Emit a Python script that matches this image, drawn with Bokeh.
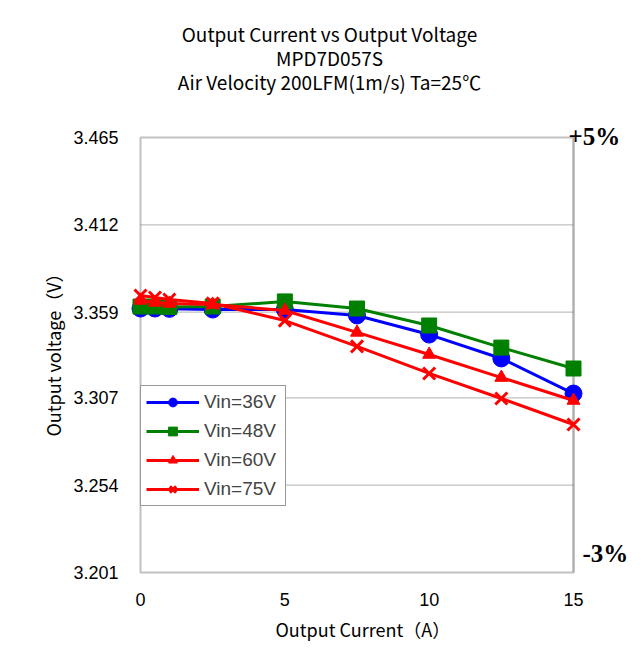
from bokeh.plotting import figure
from bokeh.models import (Range1d, FixedTicker, PrintfTickFormatter, BoxAnnotation,
                          Label, Legend, LegendItem, Title)
from bokeh.embed import file_html
from bokeh.resources import INLINE

# ---- data ----
current = [0, 0.5, 1, 2.5, 5, 7.5, 10, 12.5, 15]
v36 = [3.3612, 3.3612, 3.3610, 3.3606, 3.3606, 3.3570, 3.3454, 3.3309, 3.3096]
v48 = [3.3624, 3.3624, 3.3622, 3.3624, 3.3655, 3.3612, 3.3509, 3.3375, 3.3248]
v60 = [3.3661, 3.3649, 3.3643, 3.3637, 3.3600, 3.3467, 3.3333, 3.3193, 3.3054]
v75 = [3.3691, 3.3679, 3.3667, 3.3643, 3.3539, 3.3382, 3.3218, 3.3066, 3.2908]
series_names = ["Vin=36V", "Vin=48V", "Vin=60V", "Vin=75V"]
x_ticks = [0, 5, 10, 15]
y_ticks = [3.201, 3.254, 3.307, 3.359, 3.412, 3.465]
title_lines = ["Output Current vs Output Voltage", "MPD7D057S",
               "Air Velocity 200LFM(1m/s) Ta=25\u2103"]
tol_labels = ["+5%", "-3%"]
x_title = "Output Current\uff08A\uff09"
y_title = "Output voltage\uff08V\uff09"

X_LO, X_HI = x_ticks[0], x_ticks[-1]
Y_LO, Y_HI = y_ticks[0], y_ticks[-1]

# ---- layout (pixels) ----
W, H = 640, 646
BOX_L, BOX_R, BOX_T, BOX_B = 140, 573, 137, 572     # the drawn plot box
FRAME_L, FRAME_B = 130, 582                          # frame fills to top/right
kx = (BOX_R - BOX_L) / (X_HI - X_LO)
ky = (BOX_B - BOX_T) / (Y_HI - Y_LO)
x_start = X_LO - (BOX_L - FRAME_L) / kx
x_end = X_HI + (W - BOX_R) / kx
y_start = Y_LO - (FRAME_B - BOX_B) / ky
y_end = Y_HI + BOX_T / ky

SANS = "Liberation Sans"
CJK = "Noto Sans CJK JP"

p = figure(width=W, height=H,
           x_range=Range1d(x_start, x_end),
           y_range=Range1d(y_start, y_end),
           output_backend="svg", toolbar_location=None,
           min_border_left=FRAME_L, min_border_top=0,
           min_border_right=0, min_border_bottom=H - FRAME_B)
p.title.visible = False
p.outline_line_color = None
p.grid.visible = False
p.background_fill_color = "white"
p.border_fill_color = "white"

# axes
for ax in (p.xaxis[0], p.yaxis[0]):
    ax.axis_line_color = None
    ax.major_tick_in = 0
    ax.major_tick_out = 0
    ax.minor_tick_in = 0
    ax.minor_tick_out = 0
    ax.major_label_text_font = SANS
    ax.major_label_text_font_size = "18px"
    ax.major_label_text_color = "black"

p.xaxis.ticker = FixedTicker(ticks=x_ticks)
p.yaxis.ticker = FixedTicker(ticks=y_ticks)
p.yaxis.formatter = PrintfTickFormatter(format="%.3f")
p.xaxis.major_label_standoff = 10
p.yaxis.major_label_standoff = 12

# axis titles (side titles, placed to sit centred on the plot box)
p.add_layout(Title(text=y_title, align="left", offset=FRAME_B - 436,
                   text_font=CJK, text_font_size="18px",
                   text_font_style="normal", text_color="black"), "left")
p.add_layout(Title(text=x_title, align="left", offset=275 - FRAME_L,
                   text_font=CJK, text_font_size="18px",
                   text_font_style="normal", text_color="black"), "below")

# grid lines and plot box
for t in y_ticks[1:-1]:
    p.add_layout(BoxAnnotation(left=X_LO, right=X_HI, bottom=t, top=t,
                               fill_alpha=0, line_color="#333333",
                               line_width=1.3, level="underlay"))
p.add_layout(BoxAnnotation(left=X_LO, right=X_HI, bottom=Y_LO, top=Y_HI,
                           fill_alpha=0, line_color="#333333", line_width=2,
                           level="underlay"))
p.add_layout(BoxAnnotation(left=X_HI, right=X_HI, bottom=Y_LO, top=Y_HI,
                           fill_alpha=0, line_color="#888888", line_width=3,
                           level="underlay"))

# series
LW = 3
l1 = p.line(current, v36, line_color="#0000FF", line_width=LW)
s1 = p.scatter(current, v36, marker="circle", size=17, fill_color="#0000FF",
               line_color="#0000FF")
l2 = p.line(current, v48, line_color="#008000", line_width=LW)
s2 = p.scatter(current, v48, marker="square", size=15, fill_color="#008000",
               line_color="#008000")
l3 = p.line(current, v60, line_color="#FF0000", line_width=LW)
s3 = p.scatter(current, v60, marker="triangle", size=13, fill_color="#FF0000",
               line_color="#FF0000")
l4 = p.line(current, v75, line_color="#FF0000", line_width=LW)
s4 = p.scatter(current, v75, marker="x", size=17, line_color="#FF0000",
               line_width=3)

legend = Legend(items=[LegendItem(label=series_names[0], renderers=[l1, s1]),
                       LegendItem(label=series_names[1], renderers=[l2, s2]),
                       LegendItem(label=series_names[2], renderers=[l3, s3]),
                       LegendItem(label=series_names[3], renderers=[l4, s4])],
                location=(BOX_L - FRAME_L, FRAME_B - 506), orientation="vertical",
                glyph_width=53, glyph_height=22, label_height=22,
                label_width=76, spacing=7, padding=5, margin=0,
                label_standoff=5,
                label_text_font=SANS, label_text_font_size="19px",
                border_line_color="#333333", border_line_width=1,
                background_fill_color="white", background_fill_alpha=1)
p.add_layout(legend)

# titles (frame-relative screen units, y up from frame bottom)
for txt, py in zip(title_lines, [33, 57, 81]):
    p.add_layout(Label(x=329 - FRAME_L, y=FRAME_B - py,
                       x_units="screen", y_units="screen",
                       text=txt, text_align="center", text_baseline="middle",
                       text_font=CJK, text_font_size="19px",
                       text_color="black"))

# tolerance marks
for txt, px, py in zip(tol_labels, [568, 582], [136, 553]):
    p.add_layout(Label(x=px - FRAME_L, y=FRAME_B - py,
                       x_units="screen", y_units="screen",
                       text=txt, text_align="left", text_baseline="middle",
                       text_font="Liberation Serif", text_font_style="bold",
                       text_font_size="25px", text_color="black"))

open("out.html", "w").write(file_html(p, INLINE))
